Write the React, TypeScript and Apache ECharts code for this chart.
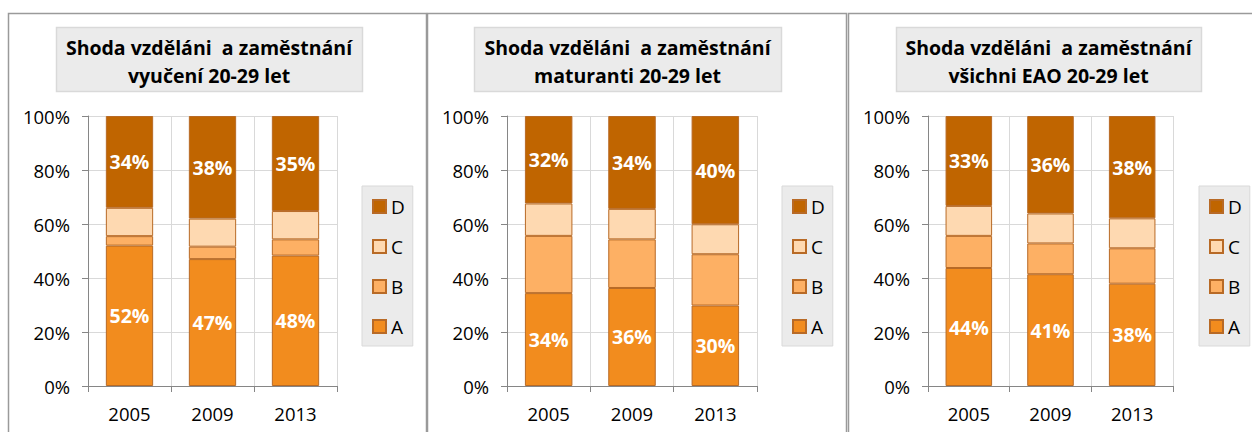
import React, { useEffect, useRef } from "react";
import * as echarts from "echarts";

const categories = ["2005", "2009", "2013"];
const legendOrder = ["D", "C", "B", "A"];

const titleLine1 = "Shoda vzděláni  a zaměstnání";
const titleLine2 = ["vyučení 20-29 let", "maturanti 20-29 let", "všichni EAO 20-29 let"];

// vyučení
const vucA = [52, 47, 48.3];
const vucB = [3.5, 4.6, 6.0];
const vucC = [10.5, 10.4, 10.5];
const vucD = [34, 38, 35.2];
// maturanti
const matA = [34.4, 36.3, 29.8];
const matB = [21.2, 18.0, 19.0];
const matC = [12.0, 11.3, 11.1];
const matD = [32.4, 34.4, 40.1];
// všichni EAO
const eaoA = [43.7, 41.4, 37.9];
const eaoB = [11.9, 11.4, 13.1];
const eaoC = [11.1, 11.1, 11.1];
const eaoD = [33.3, 36.1, 37.9];

const panelData = [
  { A: vucA, B: vucB, C: vucC, D: vucD },
  { A: matA, B: matB, C: matC, D: matD },
  { A: eaoA, B: eaoB, C: eaoC, D: eaoD },
];

const colors: Record<string, string> = {
  A: "#f28c1e",
  B: "#fdb064",
  C: "#fed9b1",
  D: "#c06500",
};

const FONT = "Open Sans";

// layout
const panelLeft = [8, 427, 848];
const panelRight = [426, 846, 1262];
const gridLeft = [88, 507, 928];
const gridWidth = [249, 250, 245];
const legendLeft = [362, 782, 1199];
const titleLeft = [56, 474, 896];
const titleRight = [362, 781, 1201];

function buildOption() {
  const grid: any[] = [];
  const xAxis: any[] = [];
  const yAxis: any[] = [];
  const series: any[] = [];
  const legend: any[] = [];
  const graphic: any[] = [];

  for (let p = 0; p < 3; p++) {
    grid.push({ left: gridLeft[p], top: 116, width: gridWidth[p], height: 270 });
    xAxis.push({
      type: "category",
      gridIndex: p,
      data: categories,
      axisLine: { lineStyle: { color: "#868686", width: 1 } },
      axisTick: { show: true, length: 6, lineStyle: { color: "#868686" } },
      splitLine: { show: true, lineStyle: { color: "#d9d9d9", width: 1 } },
      axisLabel: { color: "#000", fontSize: 18.5, fontFamily: FONT, margin: 18 },
    });
    yAxis.push({
      type: "value",
      gridIndex: p,
      min: 0,
      max: 100,
      interval: 20,
      axisLine: { show: true, lineStyle: { color: "#868686", width: 1 } },
      axisTick: { show: true, length: 6, lineStyle: { color: "#868686" } },
      splitLine: { show: true, lineStyle: { color: "#d9d9d9", width: 1 } },
      axisLabel: { color: "#000", fontSize: 18.5, fontFamily: FONT, margin: 18, formatter: "{value}%" },
    });
    for (const name of ["A", "B", "C", "D"]) {
      const labeled = name === "A" || name === "D";
      series.push({
        name,
        type: "bar",
        stack: "s" + p,
        xAxisIndex: p,
        yAxisIndex: p,
        barWidth: "57%",
        data: (panelData[p] as any)[name],
        itemStyle: { color: colors[name], borderColor: "#b86a26", borderWidth: 1 },
        label: {
          show: labeled,
          position: "inside",
          color: "#fff",
          fontWeight: "bold",
          fontSize: 19.5,
          fontFamily: FONT,
          formatter: (v: any) => Math.round(v.value) + "%",
        },
      });
    }
    legend.push({
      orient: "vertical",
      left: legendLeft[p],
      top: 186,
      data: legendOrder,
      icon: "rect",
      itemWidth: 13,
      itemHeight: 13,
      itemGap: 21,
      padding: [11, 8, 10, 10],
      backgroundColor: "#ebebeb",
      borderColor: "#d9d9d9",
      borderWidth: 1,
      selectedMode: false,
      textStyle: { fontSize: 19, fontFamily: FONT, color: "#000", lineHeight: 19 },
    });
    // panel border
    graphic.push({
      type: "rect",
      shape: { x: panelLeft[p] + 0.5, y: 13.5, width: panelRight[p] - panelLeft[p], height: 440 },
      style: { fill: "none", stroke: "#9a9a9a", lineWidth: 1.5 },
      silent: true,
      z: -1,
    });
    // title box
    graphic.push({
      type: "rect",
      shape: { x: titleLeft[p] + 0.5, y: 27.5, width: titleRight[p] - titleLeft[p], height: 64 },
      style: { fill: "#ebebeb", stroke: "#d9d9d9", lineWidth: 1.5 },
      silent: true,
    });
    const cx = (titleLeft[p] + titleRight[p]) / 2;
    graphic.push({
      type: "text",
      x: cx,
      y: 47,
      style: {
        text: titleLine1,
        align: "center",
        verticalAlign: "middle",
        fill: "#000",
        font: `bold 19.5px "${FONT}"`,
      },
      silent: true,
    });
    graphic.push({
      type: "text",
      x: cx,
      y: 75,
      style: {
        text: titleLine2[p],
        align: "center",
        verticalAlign: "middle",
        fill: "#000",
        font: `bold 19.5px "${FONT}"`,
      },
      silent: true,
    });
  }

  return {
    animation: false,
    backgroundColor: "#fff",
    textStyle: { fontFamily: FONT },
    grid,
    xAxis,
    yAxis,
    series,
    legend,
    graphic,
  };
}

export default function App() {
  const ref = useRef<HTMLDivElement>(null);
  useEffect(() => {
    if (!ref.current) return;
    const chart = echarts.init(ref.current, null, { renderer: "svg" });
    chart.setOption(buildOption() as any);
    return () => chart.dispose();
  }, []);
  return <div ref={ref} style={{ position: "absolute", left: 0, top: 0, width: 1252, height: 432 }} />;
}
